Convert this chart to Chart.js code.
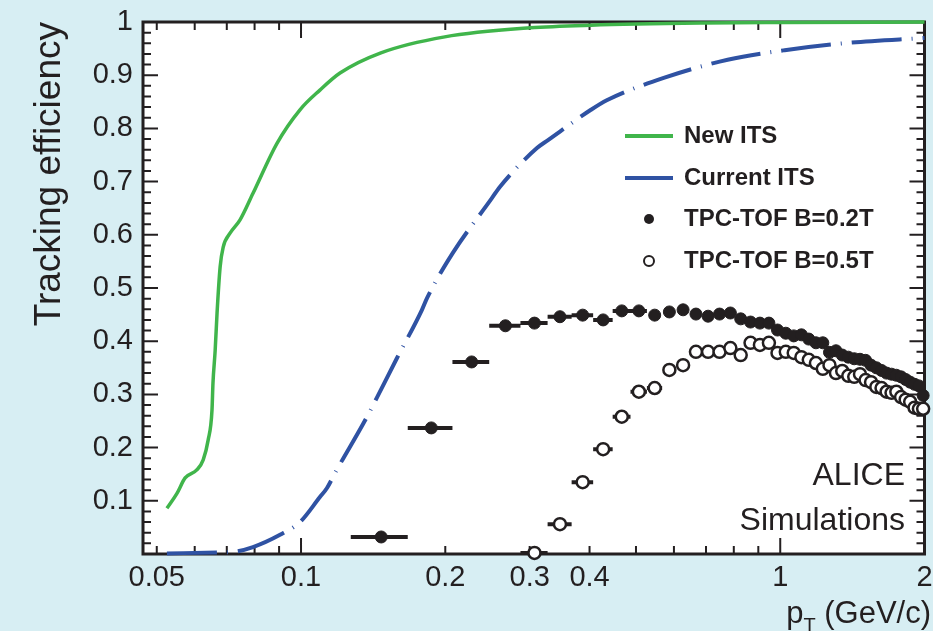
<!DOCTYPE html>
<html>
<head>
<meta charset="utf-8">
<script src="https://cdn.jsdelivr.net/npm/chart.js@4.4.1/dist/chart.umd.min.js"></script>
<style>
  html, body { margin: 0; padding: 0; background: #d7eef3; }
  #wrap { position: relative; width: 933px; height: 631px; }
</style>
</head>
<body>
<div id="wrap"><canvas id="effChart"></canvas></div>
<script>
// ---- values ----
const newItsPt  = [0.0525, 0.0551, 0.0573, 0.0606, 0.0625, 0.0640, 0.0652, 0.0655, 0.0662, 0.0668, 0.0678, 0.0688, 0.0711, 0.0746, 0.0794, 0.0891, 0.0995, 0.1095, 0.1206, 0.1468, 0.1995, 0.3006, 0.4027, 0.6922, 1.0, 2.0];
const newItsEff = [0.086, 0.114, 0.143, 0.158, 0.177, 0.214, 0.271, 0.321, 0.383, 0.453, 0.540, 0.577, 0.603, 0.628, 0.678, 0.772, 0.835, 0.872, 0.904, 0.942, 0.972, 0.989, 0.994, 0.998, 0.999, 1.0];

const curItsPt  = [0.0525, 0.0671, 0.0721, 0.0794, 0.0904, 0.0995, 0.1095, 0.1133, 0.1177, 0.1373, 0.1585, 0.1788, 0.1832, 0.2074, 0.2502, 0.2599, 0.3107, 0.3277, 0.4027, 0.4345, 0.5713, 0.7767, 1.0214, 1.395, 2.0];
const curItsEff = [0.001, 0.003, 0.004, 0.013, 0.036, 0.060, 0.107, 0.124, 0.152, 0.258, 0.368, 0.459, 0.481, 0.566, 0.669, 0.690, 0.763, 0.778, 0.835, 0.853, 0.895, 0.929, 0.947, 0.961, 0.970];

const tof02Pt  = [0.147, 0.187, 0.227, 0.267, 0.307, 0.347, 0.387, 0.427, 0.467, 0.507, 0.547, 0.587, 0.627, 0.667, 0.707, 0.747, 0.787, 0.827, 0.867, 0.907, 0.947,
                  0.987, 1.027, 1.067, 1.107, 1.147, 1.187, 1.227, 1.267, 1.307, 1.347, 1.387, 1.427, 1.467, 1.507, 1.547, 1.587, 1.627, 1.667, 1.707, 1.747, 1.787, 1.827, 1.867, 1.907, 1.947, 1.987];
const tof02Eff = [0.032, 0.237, 0.361, 0.429, 0.434, 0.446, 0.449, 0.440, 0.457, 0.457, 0.449, 0.455, 0.459, 0.451, 0.447, 0.451, 0.453, 0.442, 0.436, 0.434, 0.434,
                  0.421, 0.415, 0.410, 0.412, 0.404, 0.397, 0.397, 0.379, 0.382, 0.374, 0.370, 0.367, 0.366, 0.364, 0.355, 0.350, 0.345, 0.340, 0.338, 0.336, 0.333, 0.328, 0.323, 0.319, 0.316, 0.298];
// x error bars that stick out of the markers (low-pT bins only)
const tof02PtLow  = [0.127, 0.167, 0.207, 0.247, 0.287, 0.327, 0.367, 0.407, 0.447, 0.487];
const tof02PtHigh = [0.167, 0.207, 0.247, 0.287, 0.327, 0.367, 0.407, 0.447, 0.487, 0.527];

const tof05Pt  = [0.307, 0.347, 0.387, 0.427, 0.467, 0.507, 0.547, 0.587, 0.627, 0.667, 0.707, 0.747, 0.787, 0.827, 0.867, 0.907, 0.947,
                  0.987, 1.027, 1.067, 1.107, 1.147, 1.187, 1.227, 1.267, 1.307, 1.347, 1.387, 1.427, 1.467, 1.507, 1.547, 1.587, 1.627, 1.667, 1.707, 1.747, 1.787, 1.827, 1.867, 1.907, 1.947, 1.987];
const tof05Eff = [0.002, 0.056, 0.135, 0.197, 0.258, 0.305, 0.312, 0.346, 0.355, 0.380, 0.380, 0.380, 0.387, 0.374, 0.397, 0.393, 0.397,
                  0.378, 0.380, 0.378, 0.370, 0.365, 0.359, 0.348, 0.355, 0.340, 0.344, 0.335, 0.333, 0.338, 0.327, 0.323, 0.314, 0.312, 0.305, 0.303, 0.305, 0.295, 0.290, 0.286, 0.275, 0.273, 0.273];
const tof05PtLow  = [0.287, 0.327, 0.367, 0.407, 0.447, 0.487, 0.527];
const tof05PtHigh = [0.327, 0.367, 0.407, 0.447, 0.487, 0.527, 0.567];

// axis ticks
const xTickLabels = [0.05, 0.1, 0.2, 0.3, 0.4, 1, 2];
const xMajorTicks = [0.1, 1];
const xMinorTicks = [0.05, 0.06, 0.07, 0.08, 0.09, 0.2, 0.3, 0.4, 0.5, 0.6, 0.7, 0.8, 0.9, 2];
const yTickLabels = [0.1, 0.2, 0.3, 0.4, 0.5, 0.6, 0.7, 0.8, 0.9, 1];
const yMinorTicks = [0.02, 0.04, 0.06, 0.08, 0.12, 0.14, 0.16, 0.18, 0.22, 0.24, 0.26, 0.28, 0.32, 0.34, 0.36, 0.38,
                     0.42, 0.44, 0.46, 0.48, 0.52, 0.54, 0.56, 0.58, 0.62, 0.64, 0.66, 0.68, 0.72, 0.74, 0.76, 0.78,
                     0.82, 0.84, 0.86, 0.88, 0.92, 0.94, 0.96, 0.98];

const INK = '#231f20';
const GREEN = '#40b54b';
const BLUE = '#2f52a3';
const FONT = "'Liberation Sans', Arial, Helvetica, sans-serif";

function toPoints(xs, ys) {
    return xs.map((x, i) => ({ x: x, y: ys[i] }));
}

// white plot area
const plotBg = {
    id: 'plotBg',
    beforeDraw(chart) {
        const { ctx, chartArea: a } = chart;
        ctx.save();
        ctx.fillStyle = '#fff';
        ctx.fillRect(a.left, a.top, a.right - a.left, a.bottom - a.top);
        ctx.restore();
    }
};

// frame with inward ticks on all four sides + x error bars
const framePlugin = {
    id: 'frame',
    beforeDatasetsDraw(chart) {
        const { ctx, chartArea: a, scales: { x, y } } = chart;
        ctx.save();
        ctx.strokeStyle = INK;
        ctx.lineWidth = 2;
        ctx.beginPath();
        const tick = (px, py, dx, dy) => { ctx.moveTo(px, py); ctx.lineTo(px + dx, py + dy); };
        xMajorTicks.forEach(v => { const p = x.getPixelForValue(v); tick(p, a.bottom, 0, -16); tick(p, a.top, 0, 16); });
        xMinorTicks.forEach(v => { const p = x.getPixelForValue(v); tick(p, a.bottom, 0, -8); tick(p, a.top, 0, 8); });
        yTickLabels.forEach(v => { const p = y.getPixelForValue(v); tick(a.left, p, 15, 0); tick(a.right, p, -15, 0); });
        yMinorTicks.forEach(v => { const p = y.getPixelForValue(v); tick(a.left, p, 8, 0); tick(a.right, p, -8, 0); });
        ctx.stroke();
        ctx.lineWidth = 3;
        ctx.strokeRect(a.left, a.top, a.right - a.left, a.bottom - a.top);

        // error bars
        ctx.lineWidth = 4;
        ctx.beginPath();
        tof02PtLow.forEach((lo, i) => {
            const py = y.getPixelForValue(tof02Eff[i]);
            ctx.moveTo(x.getPixelForValue(lo), py);
            ctx.lineTo(x.getPixelForValue(tof02PtHigh[i]), py);
        });
        tof05PtLow.forEach((lo, i) => {
            const py = y.getPixelForValue(tof05Eff[i]);
            ctx.moveTo(x.getPixelForValue(lo), py);
            ctx.lineTo(x.getPixelForValue(tof05PtHigh[i]), py);
        });
        ctx.stroke();
        ctx.restore();
    }
};

// legend, ALICE label and x title
const labelsPlugin = {
    id: 'labels',
    afterDraw(chart) {
        const ctx = chart.ctx;
        ctx.save();
        // legend
        ctx.lineWidth = 4;
        ctx.strokeStyle = GREEN;
        ctx.beginPath(); ctx.moveTo(625, 136); ctx.lineTo(673, 136); ctx.stroke();
        ctx.strokeStyle = BLUE;
        ctx.beginPath(); ctx.moveTo(625, 178); ctx.lineTo(673, 178); ctx.stroke();
        ctx.fillStyle = INK;
        ctx.beginPath(); ctx.arc(649, 219, 5, 0, Math.PI * 2); ctx.fill();
        ctx.fillStyle = '#fff';
        ctx.strokeStyle = INK;
        ctx.lineWidth = 2;
        ctx.beginPath(); ctx.arc(649, 261, 5, 0, Math.PI * 2); ctx.fill(); ctx.stroke();

        ctx.fillStyle = INK;
        ctx.font = 'bold 24px ' + FONT;
        ctx.textAlign = 'left';
        ctx.textBaseline = 'middle';
        ctx.fillText('New ITS', 684, 136);
        ctx.fillText('Current ITS', 684, 178);
        ctx.fillText('TPC-TOF B=0.2T', 684, 219);
        ctx.fillText('TPC-TOF B=0.5T', 684, 261);

        // ALICE Simulations
        ctx.font = '32px ' + FONT;
        ctx.textAlign = 'right';
        ctx.textBaseline = 'alphabetic';
        ctx.fillText('ALICE', 905, 485);
        ctx.fillText('Simulations', 905, 530);

        // x title: p_T (GeV/c), right aligned
        let xr = 931;
        ctx.font = '31px ' + FONT;
        const rest = ' (GeV/c)';
        ctx.fillText(rest, xr, 623);
        xr -= ctx.measureText(rest).width;
        ctx.font = '20px ' + FONT;
        ctx.fillText('T', xr, 632);
        xr -= ctx.measureText('T').width;
        ctx.font = '31px ' + FONT;
        ctx.fillText('p', xr, 623);
        ctx.restore();
    }
};

new Chart(document.getElementById('effChart'), {
    type: 'scatter',
    data: {
        datasets: [
            {
                label: 'TPC-TOF B=0.2T',
                data: toPoints(tof02Pt, tof02Eff),
                pointRadius: 6,
                pointBackgroundColor: INK,
                pointBorderColor: INK,
                pointBorderWidth: 1,
                clip: false
            },
            {
                label: 'TPC-TOF B=0.5T',
                data: toPoints(tof05Pt, tof05Eff),
                pointRadius: 6,
                pointBackgroundColor: '#fff',
                pointBorderColor: INK,
                pointBorderWidth: 2.5,
                clip: false
            },
            {
                label: 'New ITS',
                data: toPoints(newItsPt, newItsEff),
                showLine: true,
                pointRadius: 0,
                borderColor: GREEN,
                borderWidth: 3.5,
                cubicInterpolationMode: 'monotone',
                clip: false
            },
            {
                label: 'Current ITS',
                data: toPoints(curItsPt, curItsEff),
                showLine: true,
                pointRadius: 0,
                borderColor: BLUE,
                borderWidth: 4,
                borderDash: [50, 10, 1, 10],
                cubicInterpolationMode: 'monotone',
                clip: false
            }
        ]
    },
    options: {
        responsive: true,
        maintainAspectRatio: false,
        animation: false,
        events: [],
        layout: { padding: { left: 0, top: 22, right: 8, bottom: 0 } },
        plugins: {
            legend: { display: false },
            tooltip: { enabled: false }
        },
        scales: {
            x: {
                type: 'logarithmic',
                min: 0.0468,
                max: 2,
                grid: { display: false, drawTicks: false },
                border: { display: false },
                afterBuildTicks: s => { s.ticks = xTickLabels.map(v => ({ value: v })); },
                afterFit: s => { s.height = 77; s.paddingLeft = 0; s.paddingRight = 0; },
                ticks: {
                    autoSkip: false,
                    maxRotation: 0,
                    padding: 7,
                    color: INK,
                    font: { family: FONT, size: 29 },
                    callback: v => String(v)
                }
            },
            y: {
                min: 0,
                max: 1,
                grid: { display: false, drawTicks: false },
                border: { display: false },
                afterBuildTicks: s => { s.ticks = yTickLabels.map(v => ({ value: v })); },
                afterFit: s => { s.width = 143; s.paddingTop = 0; s.paddingBottom = 0; },
                ticks: {
                    padding: 10,
                    color: INK,
                    font: { family: FONT, size: 29 },
                    callback: v => String(v)
                },
                title: {
                    display: true,
                    text: 'Tracking efficiency',
                    align: 'end',
                    color: INK,
                    padding: { top: 28, bottom: 0 },
                    font: { family: FONT, size: 37 }
                }
            }
        }
    },
    plugins: [plotBg, framePlugin, labelsPlugin]
});
</script>
</body>
</html>
